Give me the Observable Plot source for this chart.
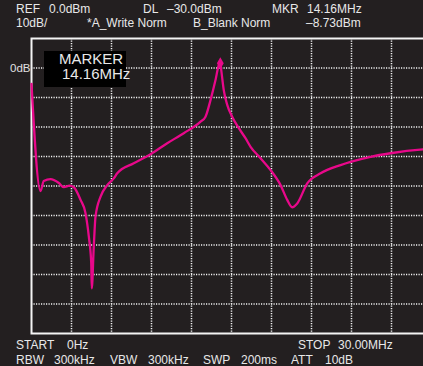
<!DOCTYPE html>
<html>
<head>
<meta charset="utf-8">
<script src="https://cdn.jsdelivr.net/npm/d3@7"></script>
<script src="https://cdn.jsdelivr.net/npm/@observablehq/plot@0.6"></script>
<style>
  html, body { margin: 0; padding: 0; background: #231f20; }
  #wrap { position: relative; width: 423px; height: 366px; overflow: hidden; background: #231f20;
          font-family: "Liberation Sans", Arial, sans-serif; color: #e8e8e8; font-size: 12px; }
  #wrap svg { position: absolute; left: 0; top: 0; max-width: none !important; }
  .t { position: absolute; white-space: pre; line-height: 1; }
  #marker { position: absolute; left: 44px; top: 51px; width: 82px; height: 36px; background: #000;
            font-size: 15px; color: #e8e8e8; }
  #marker div { position: absolute; left: 15px; top: 1px; white-space: pre; line-height: 14.7px; }
</style>
</head>
<body>
<div id="wrap"></div>
<script>
// Trace: frequency (MHz) and level (dB)
const freqMHz = [0, 0.675, 0.92, 1.43, 2.05, 2.42, 2.85, 3.17, 3.68, 4.05, 4.30, 4.48, 4.52, 4.67, 4.8, 5.18, 5.68, 6.17, 6.43, 7.67, 8.93, 10.18, 11.42, 12.68, 13.05, 13.43, 13.8, 14.05, 14.16, 14.23, 14.42, 14.68, 15.05, 15.55, 16.05, 16.43, 17.18, 17.93, 18.68, 19.18, 19.55, 19.93, 20.68, 21.68, 23.18, 23.93, 25.43, 26.93, 29.38, 30];
const levelDb = [-5.4, -41.7, -38.3, -37.7, -39.0, -40.4, -39.9, -40.4, -44.7, -49.2, -57.2, -66.1, -74.7, -60.6, -50.4, -43.6, -39.7, -37.4, -35.7, -32.3, -29.2, -25.5, -22.1, -18.2, -16.5, -10.8, -4.1, 1.0, 1.6, -0.7, -7.5, -12.5, -16.5, -20.4, -23.8, -26.7, -30.6, -34.6, -39.7, -44.7, -47.2, -45.9, -39.1, -35.7, -32.9, -31.8, -30.1, -28.9, -27.6, -27.4];

// Marker
const markerFreq = [14.16];
const markerLevel = [1.6];
const markerLabel = ["MARKER", "14.16MHz"];

// Grid ticks
const xGridTicks = [3, 6, 9, 12, 15, 18, 21, 24, 27];
const yGridTicks = [0, -10, -20, -30, -40, -50, -60, -70, -80];
const yLabelTicks = [0];

// Annotation texts
const headerRow1 = [["REF", 16], ["0.0dBm", 49], ["DL", 143], ["\u201330.0dBm", 167], ["MKR", 272], ["14.16MHz", 307]];
const headerRow2 = [["10dB/", 16], ["*A_Write Norm", 87], ["B_Blank Norm", 193], ["\u20138.73dBm", 306]];
const footerRow1 = [["START", 16], ["0Hz", 67], ["STOP", 298], ["30.00MHz", 338]];
const footerRow2 = [["RBW", 16], ["300kHz", 54], ["VBW", 110], ["300kHz", 148], ["SWP", 203], ["200ms", 241], ["ATT", 291], ["10dB", 325]];

const trace = freqMHz.map((f, i) => ({f, db: levelDb[i]}));
const marker = markerFreq.map((f, i) => ({f, db: markerLevel[i]}));

const plot = Plot.plot({
  width: 431,
  height: 366,
  marginLeft: 31,
  marginRight: 0,
  marginTop: 38,
  marginBottom: 33,
  style: {background: "#231f20", color: "#e8e8e8", fontFamily: "Liberation Sans, Arial, sans-serif", fontSize: "11px", overflow: "visible", maxWidth: "none"},
  x: {domain: [0, 30], axis: null},
  y: {domain: [-90, 10], axis: null},
  marks: [
    Plot.ruleX(xGridTicks, {stroke: "#f2f2f2", strokeWidth: 1.5, strokeDasharray: "1.2,1.3"}),
    Plot.ruleY(yGridTicks, {stroke: "#f2f2f2", strokeWidth: 1.5, strokeDasharray: "1.2,1.3"}),
    Plot.axisY(yLabelTicks, {anchor: "left", tickSize: 0, tickPadding: 1, tickFormat: () => "0dB", label: null, fill: "#e0e0e0", fontSize: 11.5}),
    Plot.frame({stroke: "#f4f4f4", strokeWidth: 2}),
    Plot.line(trace, {x: "f", y: "db", stroke: "#e8088a", strokeWidth: 2.3, curve: "monotone-x"}),
    Plot.dot(marker, {x: "f", y: "db", symbol: "diamond", r: 3.6, fill: "#e8088a", stroke: "none"})
  ]
});

const wrap = document.getElementById("wrap");
wrap.appendChild(plot);

function addRow(items, top) {
  for (const [txt, left] of items) {
    const d = document.createElement("div");
    d.className = "t";
    d.textContent = txt;
    d.style.left = left + "px";
    d.style.top = top + "px";
    wrap.appendChild(d);
  }
}
addRow(headerRow1, 2.5);
addRow(headerRow2, 17);
addRow(footerRow1, 338.5);
addRow(footerRow2, 354);

const m = document.createElement("div");
m.id = "marker";
const lbl = document.createElement("div");
lbl.textContent = markerLabel[0] + "\n\u2009" + markerLabel[1];
m.appendChild(lbl);
wrap.appendChild(m);
</script>
</body>
</html>
